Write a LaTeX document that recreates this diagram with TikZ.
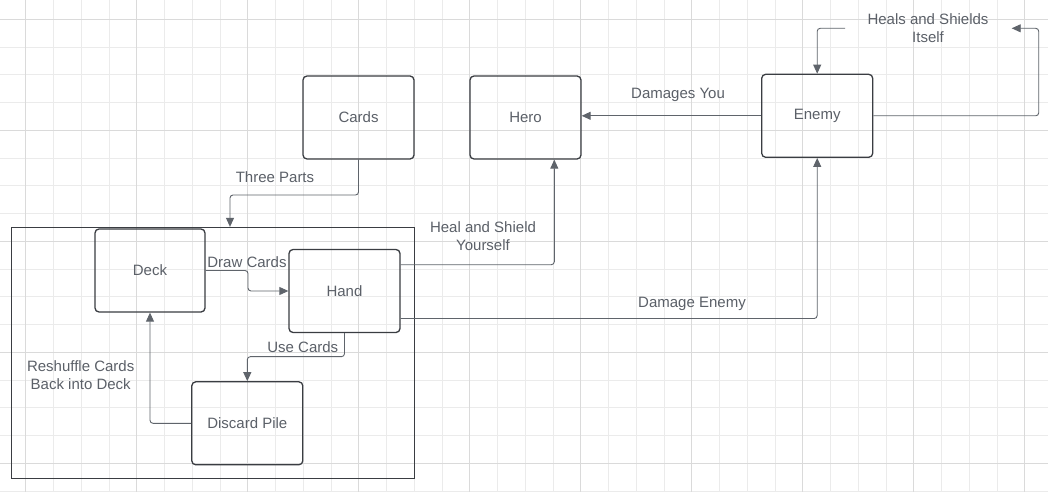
\documentclass[tikz,border=0pt]{standalone}
\usepackage{fontspec}
\setmainfont{Liberation Sans}
\usetikzlibrary{arrows.meta}
\definecolor{gridminor}{HTML}{EBEBEB}
\definecolor{gridmajor}{HTML}{DADADA}
\definecolor{boxline}{HTML}{3A3D42}
\definecolor{connc}{HTML}{5F646B}
\definecolor{txt}{HTML}{5B6068}
\begin{document}
\begin{tikzpicture}[x=1pt,y=-1pt,
 box/.style={draw=boxline,line width=1.3pt,rounded corners=4pt,minimum width=111pt,minimum height=83pt,inner sep=0pt,font=\fontsize{15}{17}\selectfont,text=txt},
 conn/.style={draw=connc,line width=0.9pt,rounded corners=3pt,-{Triangle[length=9pt,width=8pt]}},
 lbl/.style={font=\fontsize{15}{18}\selectfont,text=txt,align=center,inner sep=0pt}]
\useasboundingbox (0,0) rectangle (1048,492);
\fill[white] (0,0) rectangle (1048,492);
\foreach \i in {0,...,36} {\pgfmathsetmacro\xx{25.7+27.75*\i}\draw[gridminor,line width=0.8pt] (\xx,0) -- (\xx,492);}
\foreach \i in {0,...,17} {\pgfmathsetmacro\yy{19.3+27.75*\i}\draw[gridminor,line width=0.8pt] (0,\yy) -- (1048,\yy);}
\foreach \i in {0,4,...,36} {\pgfmathsetmacro\xx{25.7+27.75*\i}\draw[gridmajor,line width=0.8pt] (\xx,0) -- (\xx,492);}
\foreach \i in {0,4,...,16} {\pgfmathsetmacro\yy{19.3+27.75*\i}\draw[gridmajor,line width=0.8pt] (0,\yy) -- (1048,\yy);}

\node[draw=boxline,line width=1.3pt,minimum width=402.5pt,minimum height=251pt,inner sep=0pt] (group) at (213,353) {};

\node[box] (cards) at (358.5,117.5) {Cards};
\node[box] (hero) at (525.5,117.5) {Hero};
\node[box] (enemy) at (817.2,115.8) {Enemy};
\node[box,minimum width=110pt] (deck) at (150,270.5) {Deck};
\node[box] (hand) at (344.5,291) {Hand};
\node[box] (discard) at (247.3,423.3) {Discard Pile};

\coordinate (loopin) at (845,28.3);
\coordinate (loopout) at (1011.7,28.3);

\draw[conn] (cards.south) |- (230,195) -- (230,0 |- group.north);
\draw[conn] (enemy.west) -- (enemy.west -| hero.east);
\draw[conn] (enemy.east) -| (1038.7,28.3) -- (loopout);
\draw[conn] (loopin) -| (enemy.north);
\draw[conn] (deck.east) -- (248,270.5) |- (hand.west);
\draw[conn] (hand.south) -- ++(0,23.5) -| (discard.north);
\draw[conn] (discard.west) -| (deck.south);
\draw[conn] (hand.east |- 0,264.7) -| (554.3,0 |- hero.south);
\draw[conn] (hand.east |- 0,318.5) -| (enemy.south);

\node[lbl] (l1) at (275,177) {Three Parts};
\node[lbl] (l2) at (678,95) {Damages You};
\node[lbl] (l3) at (928,28.3) {Heals and Shields\\Itself};
\node[lbl] (l4) at (247,262) {Draw Cards};
\node[lbl] (l5) at (302.8,347.5) {Use Cards};
\node[lbl] (l6) at (80.7,375) {Reshuffle Cards\\Back into Deck};
\node[lbl] (l7) at (483,236.5) {Heal and Shield\\Yourself};
\node[lbl] (l8) at (692,303.5) {Damage Enemy};
\end{tikzpicture}
\end{document}
